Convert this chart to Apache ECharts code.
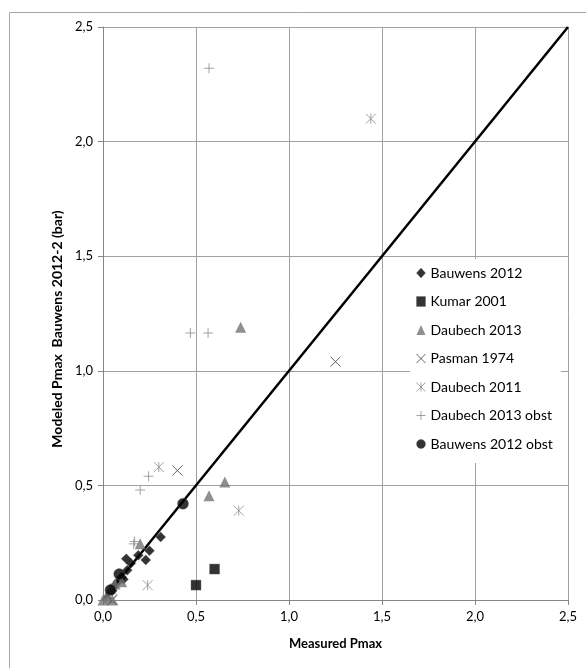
<!DOCTYPE html>
<html><head><meta charset="utf-8">
<script src="https://cdn.jsdelivr.net/npm/echarts@6/dist/echarts.min.js"></script>
<style>html,body{margin:0;padding:0;background:#fff}#c{width:586px;height:668px}</style>
</head><body><div id="c"></div>
<script>
const xTicks = [0, 0.5, 1.0, 1.5, 2.0, 2.5];
const yTicks = [0, 0.5, 1.0, 1.5, 2.0, 2.5];
const xTitle = 'Measured Pmax';
const yTitle = 'Modeled Pmax  Bauwens 2012-2 (bar)';
const bauwens2012 = [[0.31,0.275],[0.25,0.215],[0.19,0.195],[0.23,0.175],[0.125,0.18],[0.15,0.16],[0.13,0.13],[0.10,0.10],[0.08,0.08],[0.06,0.06],[0.11,0.09],[0.05,0.04]];
const kumar2001 = [[0.5,0.065],[0.6,0.135]];
const daubech2013 = [[0.74,1.19],[0.655,0.515],[0.57,0.455],[0.2,0.245],[0.1,0.08],[0.065,0.07],[0.04,0.05],[0.02,0.02],[0.0,0.0],[0.05,0.0],[0.03,0.01]];
const pasman1974 = [[1.25,1.04],[0.4,0.565],[0.05,0.0]];
const daubech2011 = [[1.44,2.10],[0.3,0.58],[0.73,0.39],[0.24,0.065],[0.05,0.005]];
const daubech2013obst = [[0.57,2.32],[0.47,1.165],[0.565,1.165],[0.245,0.54],[0.2,0.48],[0.165,0.245],[0.17,0.255]];
const bauwens2012obst = [[0.43,0.42],[0.087,0.113],[0.04,0.044]];
const identity = [[0,0],[2.5,2.5]];

const CROSS = 'path://M0,0L10,10M10,0L0,10';
const STAR = 'path://M0,0L10,10M10,0L0,10M5,0L5,10';
const PLUS = 'path://M5,0L5,10M0,5L10,5';

const FONT = 'Lato';
const fmt = v => v.toFixed(1).replace('.', ',');

const seriesDefs = [
  {name:'Bauwens 2012', data:bauwens2012, symbol:'diamond', size:10, style:{color:'#000', borderColor:'#666', borderWidth:0.5}},
  {name:'Kumar 2001', data:kumar2001, symbol:'rect', size:10, style:{color:'#000', borderColor:'#666', borderWidth:0.5}},
  {name:'Daubech 2013', data:daubech2013, symbol:'triangle', size:11, style:{color:'#747474'}},
  {name:'Pasman 1974', data:pasman1974, symbol:CROSS, size:10, style:{color:'rgba(0,0,0,0)', borderColor:'#404040', borderWidth:1}},
  {name:'Daubech 2011', data:daubech2011, symbol:STAR, size:10, style:{color:'rgba(0,0,0,0)', borderColor:'#8c8c8c', borderWidth:1}},
  {name:'Daubech 2013 obst', data:daubech2013obst, symbol:PLUS, size:10, style:{color:'rgba(0,0,0,0)', borderColor:'#8c8c8c', borderWidth:1}},
  {name:'Bauwens 2012 obst', data:bauwens2012obst, symbol:'circle', size:11, style:{color:'#000', borderColor:'#666', borderWidth:0.5}}
];

const series = [{
  type:'line', data:identity, symbol:'none', silent:true,
  lineStyle:{color:'#000', width:2.5}, z:1
}].concat(seriesDefs.map(s => ({
  type:'scatter', name:s.name, data:s.data, symbol:s.symbol, symbolSize:s.size,
  itemStyle:s.style, z:3
})));

const chart = echarts.init(document.getElementById('c'), null, {renderer:'canvas'});
chart.setOption({
  animation:false,
  backgroundColor:'#fff',
  graphic:[
    {type:'polyline', shape:{points:[[9.5,700],[9.5,12.5],[700,12.5]]}, style:{fill:'none', stroke:'#a6a6a6', lineWidth:1}, z:-10},
    {type:'text', x:57, y:329, rotation:Math.PI/2, style:{text:yTitle, fontFamily:FONT, fontWeight:'bold', fontSize:14, fill:'#000', align:'center', verticalAlign:'middle'}}
  ],
  grid:{left:103, right:18, top:27, bottom:68},
  xAxis:{
    type:'value', min:xTicks[0], max:xTicks[xTicks.length-1], interval:0.5,
    name:xTitle, nameLocation:'middle', nameGap:37,
    nameTextStyle:{fontFamily:FONT, fontWeight:'bold', fontSize:13, color:'#000'},
    axisLine:{show:true, lineStyle:{color:'#868686'}},
    axisTick:{show:true, length:5, lineStyle:{color:'#868686'}},
    axisLabel:{formatter:fmt, fontFamily:FONT, fontSize:13, color:'#000', margin:10},
    splitLine:{show:true, lineStyle:{color:'#a0a0a0'}}
  },
  yAxis:{
    type:'value', min:yTicks[0], max:yTicks[yTicks.length-1], interval:0.5,
    axisLine:{show:true, lineStyle:{color:'#868686'}},
    axisTick:{show:true, length:5, lineStyle:{color:'#868686'}},
    axisLabel:{formatter:fmt, fontFamily:FONT, fontSize:13, color:'#000', margin:10},
    splitLine:{show:true, lineStyle:{color:'#a0a0a0'}}
  },
  legend:{
    orient:'vertical', left:410, top:259, padding:[7,8,12,6],
    backgroundColor:'#fff', itemGap:14.5, itemWidth:9, itemHeight:10,
    textStyle:{fontFamily:FONT, fontSize:14, color:'#000'},
    data:seriesDefs.map(s => ({name:s.name, icon:s.symbol, itemStyle:s.style}))
  },
  series:series
});
</script></body></html>
